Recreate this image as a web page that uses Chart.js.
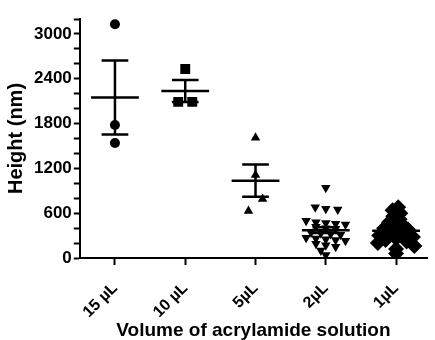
<!DOCTYPE html>
<html>
<head>
<meta charset="utf-8">
<script src="https://cdn.jsdelivr.net/npm/chart.js@4/dist/chart.umd.min.js"></script>
<style>
  body { margin: 0; background: #fff; }
  #wrap { width: 435px; height: 340px; }
</style>
</head>
<body>
<div id="wrap"><canvas id="myChart"></canvas></div>
<script>
// groups (x axis)
const categories = ['15 µL', '10 µL', '5µL', '2µL', '1µL'];

// heights in nm
const heights15 = [3130, 1780, 1540];
const heights10 = [2530, 2090, 2090];
const heights5 = [1610, 1110, 790, 630];
const heights2 = [940, 680, 660, 650, 500, 480, 470, 460, 450, 420, 400, 390,
    340, 330, 320, 310, 270, 260, 250, 240, 230, 190, 170, 150, 100, 40];
const heights1 = [680, 640, 600, 560, 520, 480, 440, 420, 400, 380, 350, 320,
    300, 280, 260, 240, 220, 200, 160, 120, 60];

// horizontal scatter of the dots inside each group
const jitter15 = [0, 0, 0];
const jitter10 = [0, -0.1, 0.1];
const jitter5 = [0, 0, 0.1, -0.1];
const jitter2 = [0, -0.15, 0, 0.17, -0.28, -0.14, 0, 0.14, 0.28, -0.14, 0, 0.14,
    -0.21, -0.07, 0.07, 0.21, -0.28, -0.14, 0, 0.14, 0.28, -0.14, 0, 0.14, -0.07, 0];
const jitter1 = [0.03, -0.05, 0.06, -0.04, 0.05, -0.1, 0.1, 0, -0.17, 0.17, -0.1, 0.1,
    -0.24, 0.24, 0, -0.15, 0.15, -0.26, 0.26, 0, 0];

const yTicksMajor = [0, 600, 1200, 1800, 2400, 3000];

function puntos(idx, valores, jitter) {
    return valores.map((v, i) => ({ x: idx + jitter[i], y: v }));
}

// mean line + SEM bars
const barrasError = {
    id: 'barrasError',
    afterDatasetsDraw(chart) {
        const ctx = chart.ctx;
        const xs = chart.scales.x;
        const ys = chart.scales.y;
        chart.data.datasets.forEach((ds, idx) => {
            const vals = ds.data.map(p => p.y);
            const n = vals.length;
            const media = vals.reduce((a, b) => a + b, 0) / n;
            const varianza = vals.reduce((a, b) => a + (b - media) * (b - media), 0) / (n - 1);
            const sem = Math.sqrt(varianza / n);
            const yMedia = ys.getPixelForValue(media);
            const yAlto = ys.getPixelForValue(media + sem);
            const yBajo = ys.getPixelForValue(media - sem);
            const xc = xs.getPixelForValue(idx);
            const xm1 = xs.getPixelForValue(idx - 0.34);
            const xm2 = xs.getPixelForValue(idx + 0.34);
            const xc1 = xs.getPixelForValue(idx - 0.19);
            const xc2 = xs.getPixelForValue(idx + 0.19);
            ctx.save();
            ctx.strokeStyle = '#000';
            ctx.lineWidth = 2.5;
            ctx.beginPath();
            ctx.moveTo(xm1, yMedia); ctx.lineTo(xm2, yMedia);
            ctx.moveTo(xc, yAlto); ctx.lineTo(xc, yBajo);
            ctx.moveTo(xc1, yAlto); ctx.lineTo(xc2, yAlto);
            ctx.moveTo(xc1, yBajo); ctx.lineTo(xc2, yBajo);
            ctx.stroke();
            ctx.restore();
        });
    }
};

const fuente = 'Liberation Sans, Arial, sans-serif';

new Chart(document.getElementById('myChart'), {
    type: 'scatter',
    data: {
        datasets: [
            { data: puntos(0, heights15, jitter15), pointStyle: 'circle', pointRadius: 5 },
            { data: puntos(1, heights10, jitter10), pointStyle: 'rect', pointRadius: 7 },
            { data: puntos(2, heights5, jitter5), pointStyle: 'triangle', pointRadius: 5.5 },
            { data: puntos(3, heights2, jitter2), pointStyle: 'triangle', rotation: 180, pointRadius: 5.5 },
            { data: puntos(4, heights1, jitter1), pointStyle: 'rectRot', pointRadius: 8 },
        ].map(ds => Object.assign(ds, {
            backgroundColor: '#000',
            borderColor: '#000',
            borderWidth: 0,
        })),
    },
    options: {
        responsive: true,
        maintainAspectRatio: false,
        animation: false,
        layout: { padding: { top: 19, right: 0, left: 4, bottom: 0 } },
        plugins: {
            legend: { display: false },
            tooltip: { enabled: false },
        },
        scales: {
            x: {
                type: 'linear',
                min: -0.5,
                max: 4.44,
                afterBuildTicks: (s) => { s.ticks = categories.map((c, i) => ({ value: i })); },
                afterFit: (s) => { s.height = 82; },
                ticks: {
                    autoSkip: false,
                    maxRotation: 45,
                    minRotation: 45,
                    padding: 14,
                    color: '#000',
                    font: { family: fuente, size: 16, weight: 'bold' },
                    callback: (v) => categories[v],
                },
                grid: { drawOnChartArea: false, tickLength: 7, tickWidth: 2, tickColor: '#000' },
                border: { color: '#000', width: 2 },
                title: {
                    display: true,
                    text: 'Volume of acrylamide solution',
                    color: '#000',
                    font: { family: fuente, size: 19, weight: 'bold', lineHeight: 1 },
                    padding: { top: 0, bottom: 0 },
                },
            },
            y: {
                min: 0,
                max: 3200,
                ticks: {
                    stepSize: 200,
                    autoSkip: false,
                    padding: 2,
                    color: '#000',
                    font: { family: fuente, size: 17, weight: 'bold' },
                    callback: (v) => yTicksMajor.includes(v) ? v : '',
                },
                grid: { drawOnChartArea: false, tickLength: 6, tickWidth: 2, tickColor: '#000' },
                border: { color: '#000', width: 2 },
                title: {
                    display: true,
                    text: 'Height (nm)',
                    color: '#000',
                    font: { family: fuente, size: 20, weight: 'bold' },
                    padding: { top: 0, bottom: 4 },
                },
            },
        },
    },
    plugins: [barrasError],
});
</script>
</body>
</html>
